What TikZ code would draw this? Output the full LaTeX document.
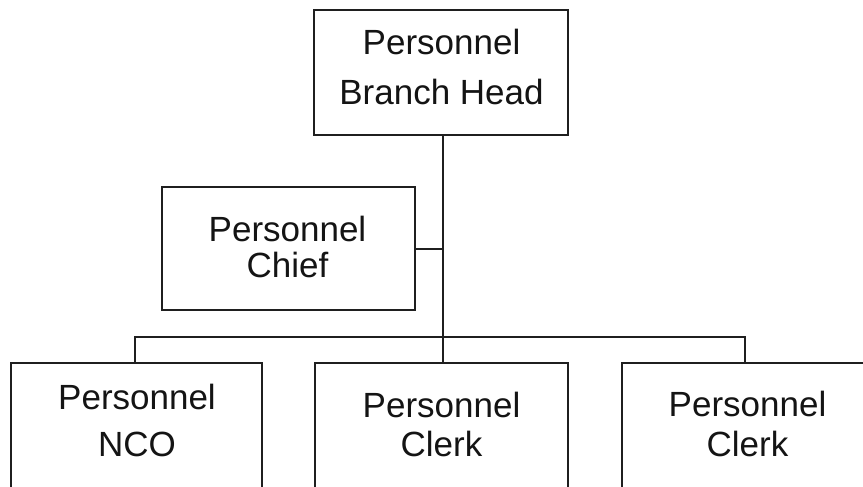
\documentclass[tikz,border=0pt]{standalone}
\usepackage{fontspec}
\setmainfont{Liberation Sans}
\begin{document}
\begin{tikzpicture}[x=1pt,y=-1pt,
  ink/.style={draw=black!88, line width=2pt},
  unit/.style={ink, rectangle, fill=white, inner sep=0pt},
  caption/.style={align=center, inner sep=0pt, text=black!92, font=\fontsize{35}{#1}\selectfont},
  link/.style={ink}]
\useasboundingbox (0,0) rectangle (863,487);
\clip (0,0) rectangle (863,487);

% boxes
\node[unit, minimum width=254, minimum height=125] (head)   at (441,72.5)  {};
\node[unit, minimum width=253, minimum height=123] (chief)  at (288.5,248.5) {};
\node[unit, minimum width=251, minimum height=170] (nco)    at (136.5,448) {};
\node[unit, minimum width=253, minimum height=170] (clerkA) at (441.5,448) {};
\node[unit, minimum width=254, minimum height=170] (clerkB) at (749,448) {};

% box texts
\node[caption=50] (headTxt)   at (441.5,67.3)  {Personnel\\Branch Head};
\node[caption=36] (chiefTxt)  at (287.5,247.3) {Personnel\\Chief};
\node[caption=47] (ncoTxt)    at (137,420.8)   {Personnel\\NCO};
\node[caption=39] (clerkATxt) at (441.5,424.8) {Personnel\\Clerk};
\node[caption=40] (clerkBTxt) at (747.5,424.3) {Personnel\\Clerk};

% reporting lines
\coordinate (bus) at (443,337);
\draw[link] (head.south -| bus) -- (clerkA.north -| bus);
\draw[link] (chief.east) -- (chief.east -| bus);
\draw[link] ([xshift=-1.5pt]nco.north) -- ([xshift=-1.5pt]nco.north |- bus)
  -- ([xshift=-4pt]clerkB.north |- bus) -- ([xshift=-4pt]clerkB.north);
\end{tikzpicture}
\end{document}
